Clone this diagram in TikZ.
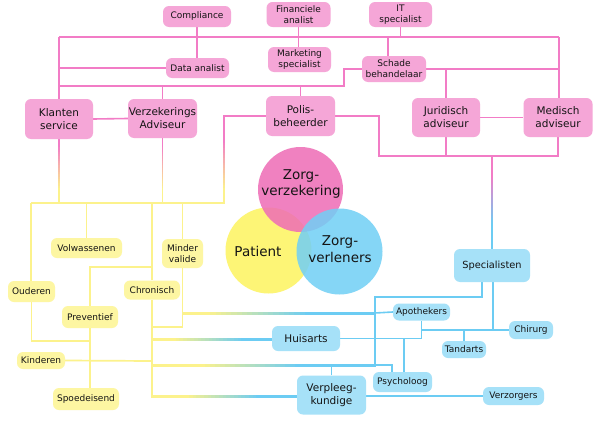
\documentclass[tikz,border=0pt]{standalone}
\usepackage{fontspec}
\setmainfont{DejaVu Sans}
\usetikzlibrary{calc}
\definecolor{pbox}{RGB}{245,166,215}
\definecolor{pline}{RGB}{242,124,198}
\definecolor{ybox}{RGB}{253,246,162}
\definecolor{yline}{RGB}{252,242,140}
\definecolor{bbox}{RGB}{166,225,248}
\definecolor{bline}{RGB}{108,204,243}
\definecolor{cpink}{RGB}{238,108,182}
\definecolor{cyel}{RGB}{253,245,118}
\definecolor{cblue}{RGB}{112,207,245}
\definecolor{txt}{RGB}{20,20,20}
\pgfdeclarelayer{bg}
\pgfsetlayers{bg,main}
% vertical gradient connector: x, y0, y1, y2, y3, top colour, bottom colour
\newcommand\vgrad[7]{%
 \fill[#6] (#1-0.9,#2) rectangle (#1+0.9,#3+0.3);
 \foreach \k in {0,...,19}{%
   \pgfmathsetmacro\pp{\k*5.263}%
   \pgfmathsetmacro\ya{#3+(#4-#3)*\k/20}%
   \pgfmathsetmacro\yb{#3+(#4-#3)*(\k+1)/20+0.3}%
   \fill[#7!\pp!#6] (#1-0.9,\ya) rectangle (#1+0.9,\yb);}
 \fill[#7] (#1-0.9,#4-0.3) rectangle (#1+0.9,#5);}
% horizontal yellow-to-blue connector: y, x0, x1, x2, x3
\newcommand\hgrad[5]{%
 \fill[yline] (#2,#1-1.5) rectangle (#3+0.3,#1+1.5);
 \foreach \k in {0,...,19}{%
   \pgfmathsetmacro\pp{\k*5.263}%
   \pgfmathsetmacro\xa{#3+(#4-#3)*\k/20}%
   \pgfmathsetmacro\xb{#3+(#4-#3)*(\k+1)/20+0.3}%
   \fill[bline!\pp!yline] (\xa,#1-1.5) rectangle (\xb,#1+1.5);}
 \fill[bline] (#4-0.3,#1-1.5) rectangle (#5,#1+1.5);}
\begin{document}
\begin{tikzpicture}[x=1pt,y=-1pt,
 box/.style={inner sep=0pt, align=center, text=txt, rounded corners=6pt},
 big/.style={box, font=\fontsize{10.5}{13}\selectfont},
 small/.style={box, font=\fontsize{9}{11}\selectfont},
 sz/.style 2 args={minimum width=#1pt, minimum height=#2pt},
 pbig/.style={big, fill=pbox}, psmall/.style={small, fill=pbox},
 ysmall/.style={small, fill=ybox},
 bbig/.style={big, fill=bbox}, bsmall/.style={small, fill=bbox},
 pl/.style={draw=pline, line width=1.6pt},
 yl/.style={draw=yline, line width=1.7pt},
 bl/.style={draw=bline, line width=1.6pt},
 ring/.style={circle, inner sep=0pt, draw=none},
 ctext/.style={align=center, text=txt, font=\fontsize{13.5}{16.5}\selectfont, inner sep=0pt}
]
\useasboundingbox (0,0) rectangle (600,431);
\begin{pgfonlayer}{bg}
\fill[white] (0,0) rectangle (600,431);
\end{pgfonlayer}

% ---------- pink (insurance) ----------
\node[psmall, sz={68}{21}] (compl) at (197,16.5) {Compliance};
\node[psmall, sz={64}{25}] (fin) at (298.5,14.5) {Financiele\\analist};
\node[psmall, sz={63}{25}] (it) at (400.5,14.5) {IT\\specialist};
\node[psmall, sz={63}{20}] (data) at (197.5,68) {Data analist};
\node[psmall, sz={63}{25}] (mark) at (299.5,59.5) {Marketing\\specialist};
\node[psmall, sz={64}{26}] (schade) at (394,69) {Schade\\behandelaar};
\node[pbig, sz={68}{40}] (klanten) at (59,119) {Klanten\\service};
\node[pbig, sz={69}{39}] (verz) at (162.5,118.5) {Verzekerings\\Adviseur};
\node[pbig, sz={69}{40}] (polis) at (300.5,116) {Polis-\\beheerder};
\node[pbig, sz={68}{39}] (jurid) at (446,117.5) {Juridisch\\adviseur};
\node[pbig, sz={69}{39}] (medisch) at (558,117.5) {Medisch\\adviseur};

% ---------- yellow (patient) ----------
\node[ysmall, sz={71}{20}] (volw) at (86.5,248) {Volwassenen};
\node[ysmall, sz={41}{29}] (minder) at (182.5,253.5) {Minder\\valide};
\node[ysmall, sz={47}{21}] (ouderen) at (31.5,291.5) {Ouderen};
\node[ysmall, sz={56}{19}] (chron) at (152,290) {Chronisch};
\node[ysmall, sz={56}{22}] (prev) at (90,317) {Preventief};
\node[ysmall, sz={48}{17}] (kind) at (41,360.5) {Kinderen};
\node[ysmall, sz={66}{22}] (spoed) at (86,399) {Spoedeisend};

% ---------- blue (care providers) ----------
\node[bbig, sz={76}{33}, font=\fontsize{9.8}{12}\selectfont] (spec) at (492,265.5) {Specialisten};
\node[bbig, sz={68}{25}] (huis) at (306,338.5) {Huisarts};
\node[bbig, sz={69}{39}] (verpl) at (331.5,395) {Verpleeg-\\kundige};
\node[bsmall, sz={57}{17}] (apoth) at (421.5,312) {Apothekers};
\node[bsmall, sz={44}{17}] (tand) at (464,349.5) {Tandarts};
\node[bsmall, sz={44}{18}] (chir) at (531,330) {Chirurg};
\node[bsmall, sz={59}{20}] (psych) at (402.5,382) {Psycholoog};
\node[bsmall, sz={61}{18}] (verzorg) at (513.5,396) {Verzorgers};

% ---------- Venn circles ----------
\node[ring, fill=cyel, minimum size=86pt] (cpat) at (268.5,250.5) {};
\node[ring, fill=cpink, fill opacity=0.85, minimum size=85pt] (czv) at (300.5,189.5) {};
\node[ring, fill=cblue, fill opacity=0.85, minimum size=86pt] (czl) at (339.5,251.5) {};
\node[ctext] (tzv) at (301,184) {Zorg-\\verzekering};
\node[ctext] (tpat) at (258,251) {Patient};
\node[ctext] (tzl) at (340,249) {Zorg-\\verleners};

\begin{pgfonlayer}{bg}
% pink network
\coordinate (tl) at (59,37);
\coordinate (tr) at (559,37);
\coordinate (ml) at (59,86);
\coordinate (mr) at (344,86);
\coordinate (pb) at (379,156);
\draw[pl] (tl) -- (tr);
\draw[pl] (compl.south) -- (compl.south |- data.north);
\draw[pl] (fin.south) -- (fin.south |- mark.north);
\draw[pl] (it.south) -- (it.south |- tl);
\draw[pl] ([xshift=-6pt]schade.north) -- ([xshift=-6pt]schade.north |- tl);
\draw[pl] (tl) -- (klanten.north);
\draw[pl] (data.west) -- (data.west -| tl);
\draw[pl] (ml) -- (mr) |- (schade.west);
\draw[pl] (verz.north) -- (verz.north |- ml);
\draw[pl] (polis.north) -- (polis.north |- ml);
\draw[pl] (klanten.east) -- (verz.west);
\draw[pl] (schade.east) -- (schade.east -| tr);
\draw[pl] (tr) -- (tr |- medisch.north);
\draw[pl] (jurid.north) -- (jurid.north |- schade.east);
\draw[pl] (jurid.east) -- (medisch.west);
\draw[pl] (polis.east) -| (pb) -- (pb -| tr);
\draw[pl] (jurid.south) -- (jurid.south |- pb);
\draw[pl] (medisch.south) -- (medisch.south |- pb);
\draw[pl] (polis.west) -- (224.8,116);
% pink to yellow / blue transitions
\vgrad{59}{139}{145}{190}{204}{pline}{yline}
\vgrad{162.5}{138}{145}{190}{204}{pline}{yline}
\vgrad{224}{115.2}{140}{190}{204}{pline}{yline}
\vgrad{492}{156}{175}{225}{249}{pline}{bline}

% yellow network
\coordinate (yl0) at (31,203);
\coordinate (yr0) at (224.9,203);
\draw[yl] (yl0) -- (yr0);
\draw[yl] (ouderen.north -| yl0) -- (yl0);
\draw[yl] (volw.north) -- (volw.north |- yl0);
\draw[yl] (chron.north) -- (chron.north |- yl0);
\draw[yl] (minder.north) -- (minder.north |- yl0);
\draw[yl] (prev.north) |- (152,267);
\draw[yl] (ouderen.south) |- (90,341);
\draw[yl] (prev.south) -- (prev.south |- spoed.north);
\draw[yl] (kind.east) -- (152,361);
\draw[yl] (chron.south) -- (152,397.5);
\draw[yl] (minder.south) |- (152,327);
% yellow-to-blue connectors
\hgrad{313}{181.6}{205}{310}{376}
\hgrad{339}{151.2}{172}{245}{273}
\hgrad{365}{151.2}{200}{300}{376}
\hgrad{396}{151.2}{185}{260}{298}

% blue network
\coordinate (bv) at (375,297);
\coordinate (pv) at (392,365);
\draw[bl] ([xshift=-10pt]spec.south) |- (bv) -- (375,365);
\draw[bl] (375,313) -- (apoth.west);
\draw[bl] ([xshift=1pt]spec.south) -- ([xshift=1pt]spec.south |- chir.west);
\draw[bl] (apoth.south |- chir.west) -- (chir.west);
\draw[bl] (apoth.south) |- (huis.east);
\draw[bl] (tand.north) -- (tand.north |- chir.west);
\draw[bl] ([xshift=1.5pt]psych.north) -- ([xshift=1.5pt]psych.north |- huis.east);
\draw[bl] (verpl.north) |- (pv) -- (pv |- psych.north);
\draw[bl] (verpl.east |- verzorg.west) -- (verzorg.west);
\end{pgfonlayer}
\end{tikzpicture}
\end{document}
